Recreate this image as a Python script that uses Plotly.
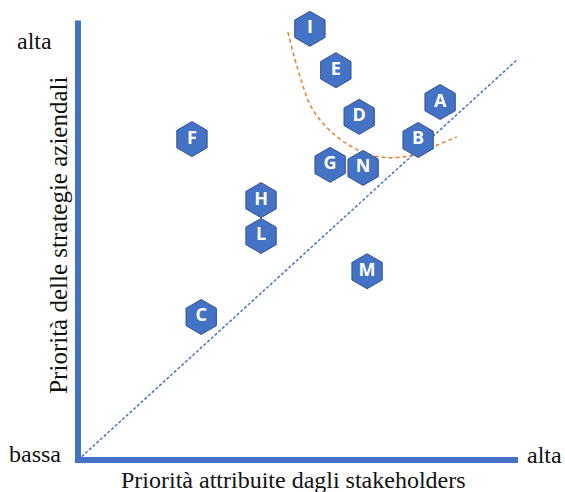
import plotly.graph_objects as go

# Data (0-100 scale on both axes)
labels = ["I", "E", "D", "A", "B", "G", "N", "F", "H", "L", "M", "C"]
stakeholder_priority = [52.7, 58.6, 63.9, 82.3, 77.3, 57.3, 64.8, 25.9, 41.6, 41.6, 65.7, 28.0]
strategy_priority = [98.9, 89.4, 78.7, 82.1, 73.4, 67.7, 67.0, 73.6, 59.6, 51.4, 43.3, 32.8]

diag_x = [0, 100]
diag_y = [0, 92]

arc_x = [47.7, 50.5, 53.4, 58.9, 66.4, 73.9, 80.0, 86.1]
arc_y = [98.2, 87.8, 80.3, 74.1, 70.0, 69.5, 71.6, 74.1]

x_title = "Priorità attribuite dagli stakeholders"
y_title = "Priorità delle strategie aziendali"
low_label = "bassa"
high_label = "alta"

BLUE = "#4472C4"
ORANGE = "#ED7D31"
SERIF = "Liberation Serif, Times New Roman, serif"

fig = go.Figure()

fig.add_trace(go.Scatter(
    x=diag_x, y=diag_y, mode="lines",
    line=dict(color=BLUE, width=1.5, dash="3px,2px"),
    hoverinfo="skip", showlegend=False))

fig.add_trace(go.Scatter(
    x=arc_x, y=arc_y, mode="lines",
    line=dict(color=ORANGE, width=1.5, dash="4px,3px", shape="spline"),
    hoverinfo="skip", showlegend=False))

fig.add_trace(go.Scatter(
    x=stakeholder_priority, y=strategy_priority, mode="markers+text",
    text=labels, textposition="middle center",
    textfont=dict(color="white", size=18, family="Open Sans", weight="bold"),
    marker=dict(symbol="hexagon", size=35, color=BLUE,
                line=dict(color="#2F528F", width=1)),
    showlegend=False, cliponaxis=False))

# Axis lines (paper coords so they are not clipped)
fig.add_shape(type="line", x0=0, y0=-0.007, x1=0, y1=1.008, xref="paper", yref="paper",
              line=dict(color=BLUE, width=6), layer="below")
fig.add_shape(type="line", x0=-0.007, y0=0, x1=1.0, y1=0, xref="paper", yref="paper",
              line=dict(color=BLUE, width=6), layer="below")

ann = [
    dict(x=-0.098, y=0.962, text=high_label, size=24),
    dict(x=-0.098, y=0.014, text=low_label, size=24),
    dict(x=1.061, y=0.012, text=high_label, size=24),
    dict(x=0.49, y=-0.046, text=x_title, size=24),
    dict(x=-0.046, y=0.516, text=y_title, textangle=-90, size=25),
]
for a in ann:
    size = a.pop("size")
    fig.add_annotation(xref="paper", yref="paper", showarrow=False,
                       xanchor="center", yanchor="middle",
                       font=dict(family=SERIF, size=size, color="#111111"), **a)

fig.update_xaxes(range=[0, 100], visible=False, showgrid=False, zeroline=False)
fig.update_yaxes(range=[0, 100], visible=False, showgrid=False, zeroline=False)

fig.update_layout(
    width=565, height=492,
    margin=dict(l=78, r=47, t=24, b=32),
    plot_bgcolor="white", paper_bgcolor="white",
)

fig.write_html("out.html")
